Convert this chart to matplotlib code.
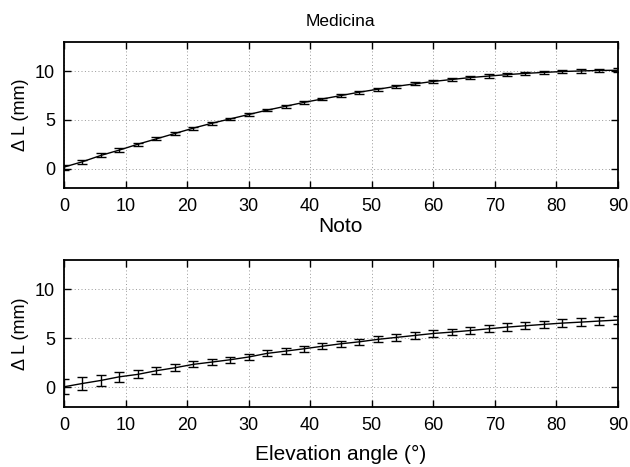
import numpy as np
import matplotlib.pyplot as plt

plt.rcParams['font.family'] = ['Liberation Sans', 'DejaVu Sans']

# elevation angles, every 3 degrees
elev = np.arange(0, 91, 3)

# Medicina (top panel)
dl_medicina = [0.15, 0.7, 1.35, 1.9, 2.5, 3.05, 3.6, 4.15, 4.65, 5.1,
               5.55, 6.0, 6.4, 6.8, 7.15, 7.5, 7.85, 8.15, 8.45, 8.7,
               8.95, 9.15, 9.35, 9.5, 9.65, 9.78, 9.88, 9.97, 10.03, 10.08, 10.1]
err_medicina = [0.25, 0.22, 0.2, 0.18, 0.16, 0.15, 0.14, 0.14, 0.13, 0.13,
                0.13, 0.13, 0.13, 0.13, 0.13, 0.13, 0.14, 0.14, 0.15, 0.15,
                0.16, 0.16, 0.17, 0.17, 0.18, 0.18, 0.19, 0.19, 0.2, 0.2, 0.2]

# Noto (bottom panel)
dl_noto = [0.06, 0.4, 0.71, 1.08, 1.33, 1.7, 2.0, 2.35, 2.58, 2.82,
           3.1, 3.47, 3.7, 3.94, 4.2, 4.45, 4.65, 4.9, 5.1, 5.3,
           5.5, 5.64, 5.8, 5.98, 6.15, 6.29, 6.43, 6.56, 6.66, 6.77, 6.87]
err_noto = [0.75, 0.63, 0.56, 0.48, 0.42, 0.38, 0.34, 0.32, 0.3, 0.3,
            0.3, 0.3, 0.3, 0.3, 0.3, 0.3, 0.31, 0.31, 0.32, 0.32,
            0.33, 0.34, 0.35, 0.36, 0.37, 0.38, 0.39, 0.4, 0.41, 0.42, 0.43]

fig = plt.figure(figsize=(6.3, 4.67), dpi=100)
ax1 = fig.add_axes([0.1016, 0.5974, 0.879, 0.3126])
ax2 = fig.add_axes([0.1016, 0.1285, 0.879, 0.3148])

for ax, y, e in [(ax1, dl_medicina, err_medicina), (ax2, dl_noto, err_noto)]:
    ax.plot(elev, y, 'k-', lw=1)
    ax.errorbar(elev, y, yerr=e, fmt='none', ecolor='k', elinewidth=1,
                capsize=3.6, capthick=1)
    ax.set_xlim(0, 90)
    ax.set_ylim(-2, 13)
    ax.set_xticks(np.arange(0, 91, 10))
    ax.set_yticks([0, 5, 10])
    ax.grid(True, ls=(0, (1, 2.5)), color='#999999', lw=0.7)
    ax.tick_params(direction='in', top=True, right=True, labelsize=13,
                   length=5, width=1)
    ax.tick_params(axis='x', pad=7)
    ax.tick_params(axis='y', pad=6.5)
    for s in ax.spines.values():
        s.set_linewidth(1.3)
    ax.set_ylabel('Δ L (mm)', fontsize=13, labelpad=4)

fig.text(0.541, 0.955, 'Medicina', ha='center', va='center', fontsize=12.5)
fig.text(0.541, 0.514, 'Noto', ha='center', va='center', fontsize=15)
fig.text(0.541, 0.026, 'Elevation angle (°)', ha='center', va='center',
         fontsize=15)

fig.savefig('out.png', dpi=100)
